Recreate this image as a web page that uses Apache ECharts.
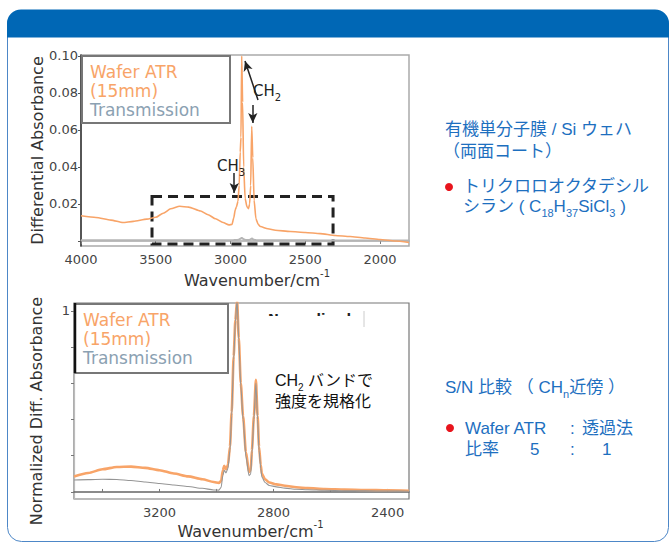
<!DOCTYPE html>
<html>
<head>
<meta charset="utf-8">
<script src="https://cdn.jsdelivr.net/npm/echarts@6.0.0/dist/echarts.min.js"></script>
<style>
  html, body { margin: 0; padding: 0; background: #fff; }
  #chart { width: 669px; height: 544px; }
</style>
</head>
<body>
<div id="chart"></div>
<script>
// upper spectrum: differential absorbance vs wavenumber
const topWave = [4000, 3900, 3800, 3720, 3650, 3560, 3500, 3450, 3400, 3340,
  3280, 3200, 3150, 3100, 3050, 3010, 2990, 2978, 2968, 2960,
  2950, 2942, 2935, 2930, 2925, 2919, 2912, 2902, 2890, 2880,
  2872, 2865, 2858, 2851, 2842, 2830, 2815, 2800, 2750, 2700,
  2600, 2500, 2400, 2300, 2200, 2100, 2000, 1900, 1806]
const topAtr = [0.0136, 0.0127, 0.0113, 0.0100, 0.0106, 0.0118, 0.0128, 0.0150, 0.0174, 0.0188,
  0.0183, 0.0162, 0.0142, 0.0120, 0.0100, 0.0087, 0.0090, 0.0125, 0.0170, 0.0185,
  0.0215, 0.0300, 0.0480, 0.0560, 0.1000, 0.0750, 0.0400, 0.0230, 0.0185, 0.0175,
  0.0200, 0.0300, 0.0620, 0.0450, 0.0220, 0.0120, 0.0090, 0.0078, 0.0066, 0.0058,
  0.0051, 0.0046, 0.0040, 0.0030, 0.0024, 0.0016, 0.0008, 0.0000, -0.0008]
const topTrans = [0.0004, 0.0004, 0.0004, 0.0004, 0.0004, 0.0004, 0.0004, 0.0004, 0.0004, 0.0004,
  0.0004, 0.0004, 0.0004, 0.0004, 0.0004, 0.0004, 0.0004, 0.0005, 0.0006, 0.0006,
  0.0007, 0.0009, 0.0012, 0.0013, 0.0018, 0.0014, 0.0009, 0.0007, 0.0006, 0.0006,
  0.0007, 0.0009, 0.0014, 0.0010, 0.0007, 0.0005, 0.0004, 0.0004, 0.0004, 0.0004,
  0.0004, 0.0004, 0.0003, 0.0003, 0.0003, 0.0003, 0.0003, 0.0003, 0.0003]
const topXTicks = [4000, 3500, 3000, 2500, 2000]
const topYTicks = [0, 0.02, 0.04, 0.06, 0.08, 0.1]
const topYLabels = [0.02, 0.04, 0.06, 0.08, 0.1]

// lower spectrum: normalised to the CH2 band
const botWave = [3500, 3450, 3400, 3350, 3300, 3250, 3200, 3150, 3100, 3050,
  3010, 2992, 2984, 2978, 2973, 2967, 2960, 2953, 2947, 2940,
  2934, 2928, 2922, 2915, 2907, 2897, 2886, 2880, 2876, 2869,
  2862, 2856, 2851, 2845, 2841, 2830, 2815, 2790, 2760, 2720,
  2680, 2620, 2550, 2480, 2400, 2325]
const botAtr = [0.085, 0.105, 0.125, 0.138, 0.140, 0.133, 0.120, 0.102, 0.086, 0.070,
  0.055, 0.050, 0.060, 0.120, 0.145, 0.125, 0.150, 0.250, 0.440, 0.750,
  0.950, 1.060, 0.850, 0.600, 0.420, 0.220, 0.110, 0.120, 0.230, 0.420,
  0.620, 0.420, 0.250, 0.150, 0.100, 0.070, 0.052, 0.042, 0.034, 0.026,
  0.021, 0.016, 0.013, 0.011, 0.009, 0.007]
const botTrans = [0.066, 0.068, 0.070, 0.069, 0.063, 0.055, 0.047, 0.038, 0.030, 0.020,
  0.011, 0.010, 0.025, 0.090, 0.120, 0.105, 0.130, 0.230, 0.420, 0.730,
  0.940, 1.060, 0.840, 0.585, 0.400, 0.195, 0.090, 0.100, 0.210, 0.400,
  0.600, 0.400, 0.230, 0.130, 0.082, 0.052, 0.036, 0.028, 0.021, 0.015,
  0.012, 0.009, 0.007, 0.006, 0.005, 0.004]
const botXTicks = [3400, 3200, 3000, 2800, 2600, 2400]
const botXLabels = [3200, 2800, 2400]
const botYTicks = [0, 0.2, 0.4, 0.6, 0.8, 1]
const botYLabels = [1]

const pairs = (xs, ys) => xs.map((x, i) => [x, ys[i]])

const F = 'DejaVu Sans'
const JP = "'Liberation Sans', 'Noto Sans CJK JP'"
const orange = '#f8a468'
const grayBlue = '#8ba1b2'
const blue = '#1d6fbf'

const supRich = {
  m: { fontSize: 16, fontFamily: F, color: '#333', lineHeight: 20, verticalAlign: 'bottom' },
  u: { fontSize: 10, fontFamily: F, color: '#333', lineHeight: 10, verticalAlign: 'top' }
}
const subRich = (size, color, family) => ({
  m: { fontSize: size, fontFamily: family, fill: color, color: color, lineHeight: size + 4, verticalAlign: 'top' },
  s: { fontSize: Math.round(size * 0.65), fontFamily: family, fill: color, color: color, lineHeight: 10, verticalAlign: 'bottom' }
})

const txt = (x, y, text, extra) => ({
  type: 'text', x: x, y: y, z: 100,
  style: Object.assign({ text: text, fill: blue, fontSize: 17, fontFamily: JP, verticalAlign: 'middle' }, extra || {})
})
const dot = (x, y) => ({ type: 'circle', z: 100, shape: { cx: x, cy: y, r: 4 }, style: { fill: '#e8141c' } })

const legendTexts = (x, y0) => [
  txt(x, y0, 'Wafer ATR', { fill: orange, fontSize: 17, fontFamily: F }),
  txt(x, y0 + 19, '(15mm)', { fill: orange, fontSize: 17, fontFamily: F }),
  txt(x, y0 + 38, 'Transmission', { fill: grayBlue, fontSize: 17, fontFamily: F })
]

const axisLabelStyle = { color: '#444', fontSize: 13, fontFamily: F, formatter: v => String(v) }

const option = {
  animation: false,
  backgroundColor: '#fff',
  grid: [
    { left: 81, top: 55, width: 328, height: 191, show: true, borderColor: '#aaa', borderWidth: 1.5, outerBoundsMode: 'none' },
    { left: 74, top: 303, width: 335, height: 196, show: true, borderColor: '#777', borderWidth: 1.2, outerBoundsMode: 'none' }
  ],
  xAxis: [
    {
      gridIndex: 0, type: 'value', inverse: true, min: 1806, max: 4000,
      axisLine: { lineStyle: { color: '#aaa', width: 1.5 } },
      axisTick: { customValues: topXTicks, length: 3, lineStyle: { color: '#777' } },
      axisLabel: Object.assign({ customValues: topXTicks, margin: 7 }, axisLabelStyle),
      splitLine: { show: false },
      name: '{m|Wavenumber/cm}{u|-1}', nameLocation: 'middle', nameGap: 22,
      nameTextStyle: { rich: supRich, padding: [0, 0, 0, 24] }
    },
    {
      gridIndex: 1, type: 'value', inverse: true, min: 2325, max: 3500,
      axisLine: { lineStyle: { color: '#666', width: 1.5 } },
      axisTick: { customValues: botXTicks, length: 3, inside: true, lineStyle: { color: '#777' } },
      axisLabel: Object.assign({ customValues: botXLabels, margin: 7 }, axisLabelStyle),
      splitLine: { show: false },
      name: '{m|Wavenumber/cm}{u|-1}', nameLocation: 'middle', nameGap: 19,
      nameTextStyle: { rich: supRich, padding: [0, 0, 0, 18] }
    }
  ],
  yAxis: [
    {
      gridIndex: 0, type: 'value', min: -0.0027, max: 0.1005,
      axisLine: { show: true, lineStyle: { color: '#333', width: 1.5 } },
      axisTick: { show: true, customValues: topYTicks, length: 3, lineStyle: { color: '#555' } },
      axisLabel: Object.assign({}, axisLabelStyle, { customValues: topYLabels, margin: 3, formatter: v => v.toFixed(2) }),
      splitLine: { show: false },
      name: 'Differential Absorbance', nameLocation: 'middle', nameGap: 36, nameRotate: 90,
      nameTextStyle: { fontSize: 16, fontFamily: F, color: '#333' }
    },
    {
      gridIndex: 1, type: 'value', min: -0.039, max: 1.044,
      axisLine: { show: true, lineStyle: { color: '#bbb', width: 1.2 } },
      axisTick: { show: true, customValues: botYTicks, length: 3, lineStyle: { color: '#777' } },
      axisLabel: Object.assign({}, axisLabelStyle, { customValues: botYLabels, margin: 4 }),
      splitLine: { show: false },
      name: 'Normalized Diff. Absorbance', nameLocation: 'middle', nameGap: 30, nameRotate: 90,
      nameTextStyle: { fontSize: 16, fontFamily: F, color: '#333', padding: [0, 20, 0, 0] }
    }
  ],
  series: [
    {
      name: 'Transmission', type: 'line', xAxisIndex: 0, yAxisIndex: 0,
      data: pairs(topWave, topTrans), showSymbol: false,
      lineStyle: { color: '#b5b5b5', width: 2 },
      markArea: {
        silent: true,
        itemStyle: { color: 'rgba(0,0,0,0)', borderColor: '#222', borderWidth: 3, borderType: [10, 6] },
        data: [[{ coord: [3525, 0.024] }, { coord: [2314, -0.0016] }]]
      }
    },
    {
      name: 'Wafer ATR', type: 'line', xAxisIndex: 0, yAxisIndex: 0,
      data: pairs(topWave, topAtr), showSymbol: false,
      smooth: 0.2, smoothMonotone: 'x',
      lineStyle: { color: orange, width: 1.6 },
      markLine: {
        silent: true, symbol: ['none', 'arrow'], symbolSize: [7, 10],
        label: { show: false },
        lineStyle: { color: '#222', width: 1.5, type: 'solid' },
        data: [
          [{ coord: [2816, 0.0762] }, { coord: [2903, 0.0973] }],
          [{ coord: [2851, 0.0735] }, { coord: [2851, 0.0638] }],
          [{ coord: [2975, 0.0368] }, { coord: [2975, 0.026] }]
        ]
      }
    },
    {
      name: 'Wafer ATR', type: 'line', xAxisIndex: 1, yAxisIndex: 1,
      data: pairs(botWave, botAtr), showSymbol: false,
      smooth: 0.25, smoothMonotone: 'x',
      lineStyle: { color: orange, width: 2.6 }
    },
    {
      name: 'Transmission', type: 'line', xAxisIndex: 1, yAxisIndex: 1,
      data: pairs(botWave, botTrans), showSymbol: false,
      smooth: 0.25, smoothMonotone: 'x',
      lineStyle: { color: '#959595', width: 1.1 }
    }
  ],
  graphic: [
    // slide frame and header
    { type: 'rect', z: 0, shape: { x: 7.5, y: 10.5, width: 661, height: 531, r: 14 }, style: { fill: null, stroke: '#4d87c7', lineWidth: 1 } },
    { type: 'rect', z: 1, shape: { x: 7, y: 9.5, width: 662, height: 28, r: [14, 14, 0, 0] }, style: { fill: '#0067b5' } },

    // upper legend box
    { type: 'rect', z: 90, shape: { x: 82, y: 56, width: 148, height: 67 }, style: { fill: '#fff', stroke: '#777', lineWidth: 2 } },
    ...legendTexts(90, 72),
    txt(267, 93, '{m|CH}{s|2}', { rich: subRich(15, '#222', F), align: 'center' }),
    txt(231, 168, '{m|CH}{s|3}', { rich: subRich(15, '#222', F), align: 'center' }),

    // lower legend box
    { type: 'rect', z: 90, shape: { x: 75, y: 304, width: 153, height: 69 }, style: { fill: '#fff', stroke: '#777', lineWidth: 2 } },
    { type: 'line', z: 91, shape: { x1: 75, y1: 303, x2: 75, y2: 373 }, style: { stroke: '#111', lineWidth: 2.5 } },
    ...legendTexts(83, 320),

    // cut-off label under a white patch
    txt(268, 318, 'Normalized', { fill: '#222', fontSize: 13, fontFamily: F, fontWeight: 'bold' }),
    { type: 'rect', z: 101, shape: { x: 262, y: 316, width: 102, height: 30 }, style: { fill: '#fff' } },
    { type: 'line', z: 102, shape: { x1: 364, y1: 311, x2: 364, y2: 327 }, style: { stroke: '#ccc', lineWidth: 1 } },

    txt(275, 382, '{m|CH}{s|2}{m| バンドで}', { rich: subRich(16, '#111', JP) }),
    txt(275, 401, '強度を規格化', { fill: '#111', fontSize: 16 }),

    // right-hand notes
    txt(445, 129, '有機単分子膜 / Si ウェハ'),
    txt(443, 151, '（両面コート）'),
    dot(449, 187),
    txt(463, 186, 'トリクロロオクタデシル'),
    txt(463, 208, '{m|シラン ( C}{s|18}{m|H}{s|37}{m|SiCl}{s|3}{m| )}', { rich: subRich(17, blue, JP) }),
    txt(445, 389, '{m|S/N 比較 （ CH}{s|n}{m|近傍 ）}', { rich: subRich(17, blue, JP) }),
    dot(450, 428),
    txt(465, 428, 'Wafer ATR'),
    txt(570, 428, ':'),
    txt(582, 428, '透過法'),
    txt(465, 449, '比率'),
    txt(530, 449, '5'),
    txt(570, 449, ':'),
    txt(602, 449, '1')
  ]
}

const chart = echarts.init(document.getElementById('chart'), null, { renderer: 'svg' })
chart.setOption(option)
</script>
</body>
</html>
